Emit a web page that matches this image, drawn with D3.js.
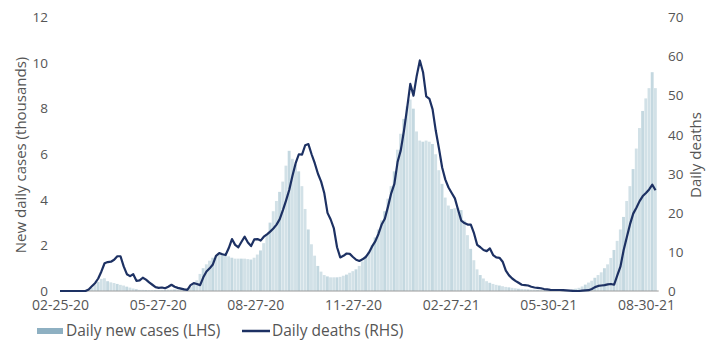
<!DOCTYPE html>
<html>
<head>
<meta charset="utf-8">
<script src="https://cdn.jsdelivr.net/npm/d3@7"></script>
<style>
  html, body { margin: 0; padding: 0; background: #fff; }
  svg { display: block; font-family: "Open Sans", sans-serif; }
</style>
</head>
<body>
<svg id="chart" width="713" height="341"></svg>
<script>
// ---- data (one value every 3 days starting 2020-02-25) ----
const startDate = "2020-02-25";
const stepDays = 3;
const tickLabels = ["02-25-20","05-27-20","08-27-20","11-27-20","02-27-21","05-30-21","08-30-21"];
const leftTicks = [0, 2, 4, 6, 8, 10, 12];
const rightTicks = [0, 10, 20, 30, 40, 50, 60, 70];
const seriesNames = ["Daily new cases (LHS)", "Daily deaths (RHS)"];

// new daily cases, thousands
const cases = [
  0,0,0,0,0,0,0,0,0,0.03,
  0.14,0.26,0.4,0.53,0.56,0.43,0.38,0.35,0.31,0.27,
  0.24,0.19,0.15,0.11,0.08,0.05,0.05,0.04,0.04,0.04,
  0.04,0.05,0.05,0.05,0.06,0.06,0.07,0.07,0.08,0.1,
  0.12,0.17,0.3,0.47,0.75,1.0,1.17,1.33,1.46,1.56,
  1.61,1.62,1.59,1.52,1.46,1.42,1.42,1.42,1.42,1.4,
  1.38,1.46,1.6,1.78,2.1,2.5,3.0,3.5,3.95,4.35,
  4.8,5.5,6.15,5.8,5.55,5.25,4.6,3.6,2.7,2.05,
  1.55,1.1,0.85,0.7,0.64,0.6,0.6,0.6,0.62,0.67,
  0.72,0.8,0.87,0.95,1.1,1.3,1.5,1.72,2.0,2.35,
  2.7,3.1,3.5,4.05,4.6,5.25,6.2,6.9,7.55,8.1,
  8.4,8.0,7.0,6.6,6.55,6.6,6.55,6.45,6.0,5.3,
  4.7,4.1,3.75,3.6,3.63,3.65,3.55,3.1,2.45,1.85,
  1.35,0.95,0.7,0.55,0.43,0.36,0.31,0.27,0.24,0.21,
  0.18,0.16,0.14,0.12,0.1,0.09,0.08,0.07,0.06,0.06,
  0.05,0.05,0.05,0.04,0.04,0.04,0.04,0.04,0.04,0.05,
  0.05,0.07,0.1,0.14,0.2,0.28,0.37,0.45,0.58,0.7,
  0.82,1.0,1.17,1.45,1.8,2.2,2.7,3.25,3.95,4.6,
  5.35,6.25,7.15,7.9,8.45,8.9,9.6,8.9
];

// daily deaths
const deaths = [
  0,0,0,0,0,0,0,0,0,0.4,
  1.2,2.0,3.2,5.0,7.1,7.4,7.5,8.0,8.9,8.9,
  6.3,4.3,3.8,4.3,2.6,2.7,3.4,2.9,2.2,1.6,
  1.0,0.8,0.9,0.7,1.1,1.6,1.1,0.8,0.6,0.4,
  0.3,1.5,2.0,1.8,1.5,3.5,5.0,5.8,6.8,9.0,
  9.7,9.4,9.2,11.0,13.3,11.8,11.2,12.6,13.9,12.4,
  11.5,13.2,13.3,12.9,13.9,14.5,15.2,16.0,17.0,18.4,
  20.7,23.2,25.9,29.5,32.7,35.0,34.9,37.3,37.6,35.0,
  32.7,30.0,28.0,25.0,20.0,18.3,16.0,11.2,8.6,9.0,
  9.6,9.5,8.7,8.0,7.7,8.1,8.7,9.8,11.4,12.7,
  14.6,17.0,18.5,21.6,25.0,27.4,33.0,36.0,41.0,46.8,
  53.0,50.0,55.0,59.0,56.0,49.8,49.2,46.5,41.0,36.5,
  31.6,28.5,26.5,25.1,23.7,20.8,18.0,17.4,17.0,17.0,
  14.8,11.8,11.2,10.5,10.2,10.9,9.2,8.6,8.5,7.5,
  5.2,4.0,3.2,2.6,2.1,1.6,1.5,1.4,1.1,0.9,
  0.8,0.7,0.5,0.4,0.3,0.25,0.25,0.25,0.2,0.15,
  0.1,0.05,0,0,0.1,0.15,0.2,0.5,1.0,1.3,
  1.4,1.5,1.7,1.8,1.6,4.0,6.3,10.5,13.8,17.1,
  19.8,21.3,23.0,24.3,25.1,26.0,27.2,25.8
];

// ---- chart ----
const svg = d3.select("#chart");
const parseISO = d3.timeParse("%Y-%m-%d");
const parseTick = d3.timeParse("%m-%d-%y");
const t0 = parseISO(startDate);
const dates = cases.map((_, i) => d3.timeDay.offset(t0, i * stepDays));
const FONT = "Open Sans, sans-serif";
const TXT = "#555";

const x = d3.scaleTime()
  .domain([t0, d3.timeDay.offset(t0, 564)])
  .range([60, 658.7]);
const yL = d3.scaleLinear().domain([0, 12]).range([291, 17.5]);
const yR = d3.scaleLinear().domain([0, 70]).range([291, 17.5]);

const stepPx = x(d3.timeDay.offset(t0, stepDays)) - x(t0);

// bars
svg.append("g").selectAll("rect")
  .data(cases)
  .join("rect")
  .attr("x", (d, i) => x(dates[i]) - stepPx / 2)
  .attr("width", stepPx - 0.3)
  .attr("y", d => yL(d))
  .attr("height", d => yL(0) - yL(d))
  .attr("fill", (d, i) => i % 3 === 0 ? "#c4d8e0" : "#d2e1e7");

// baseline
svg.append("line")
  .attr("x1", x(t0)).attr("x2", x.range()[1])
  .attr("y1", yL(0)).attr("y2", yL(0))
  .attr("stroke", "#9a9a9a").attr("stroke-width", 1);

// line
const line = d3.line()
  .x((d, i) => x(dates[i]))
  .y(d => yR(d));
svg.append("path")
  .datum(deaths)
  .attr("d", line)
  .attr("fill", "none")
  .attr("stroke", "#1d3163")
  .attr("stroke-width", 2.2)
  .attr("stroke-linejoin", "round");

// x axis
const xAxis = d3.axisBottom(x)
  .tickValues(tickLabels.map(parseTick))
  .tickFormat(d3.timeFormat("%m-%d-%y"))
  .tickSize(0).tickPadding(9);
const gx = svg.append("g").attr("transform", `translate(0,${yL(0)})`).call(xAxis);
gx.select(".domain").remove();
gx.selectAll("text").attr("fill", TXT).attr("font-size", 14).attr("font-family", FONT);

// left axis
const gl = svg.append("g").attr("transform", "translate(48,0)")
  .call(d3.axisLeft(yL).tickValues(leftTicks).tickSize(0).tickPadding(0));
gl.select(".domain").remove();
gl.selectAll("text").attr("fill", TXT).attr("font-size", 13.5).attr("font-family", FONT);

// right axis
const gr = svg.append("g").attr("transform", "translate(668,0)")
  .call(d3.axisRight(yR).tickValues(rightTicks).tickSize(0).tickPadding(0));
gr.select(".domain").remove();
gr.selectAll("text").attr("fill", TXT).attr("font-size", 13.5).attr("font-family", FONT);

// axis titles
svg.append("text")
  .attr("transform", "translate(26,155) rotate(-90)")
  .attr("text-anchor", "middle")
  .attr("fill", TXT).attr("font-size", 15)
  .text("New daily cases (thousands)");
svg.append("text")
  .attr("transform", "translate(701,155) rotate(-90)")
  .attr("text-anchor", "middle")
  .attr("fill", TXT).attr("font-size", 15)
  .text("Daily deaths");

// legend
const lg = svg.append("g");
lg.append("rect").attr("x", 37).attr("y", 328).attr("width", 26).attr("height", 6).attr("fill", "#8eb0c2");
lg.append("text").attr("x", 66).attr("y", 336).attr("fill", TXT).attr("font-size", 15.5).text(seriesNames[0]);
lg.append("line").attr("x1", 242).attr("x2", 270).attr("y1", 331).attr("y2", 331)
  .attr("stroke", "#1d3163").attr("stroke-width", 2.5);
lg.append("text").attr("x", 272).attr("y", 336).attr("fill", TXT).attr("font-size", 15.5).text(seriesNames[1]);
</script>
</body>
</html>
